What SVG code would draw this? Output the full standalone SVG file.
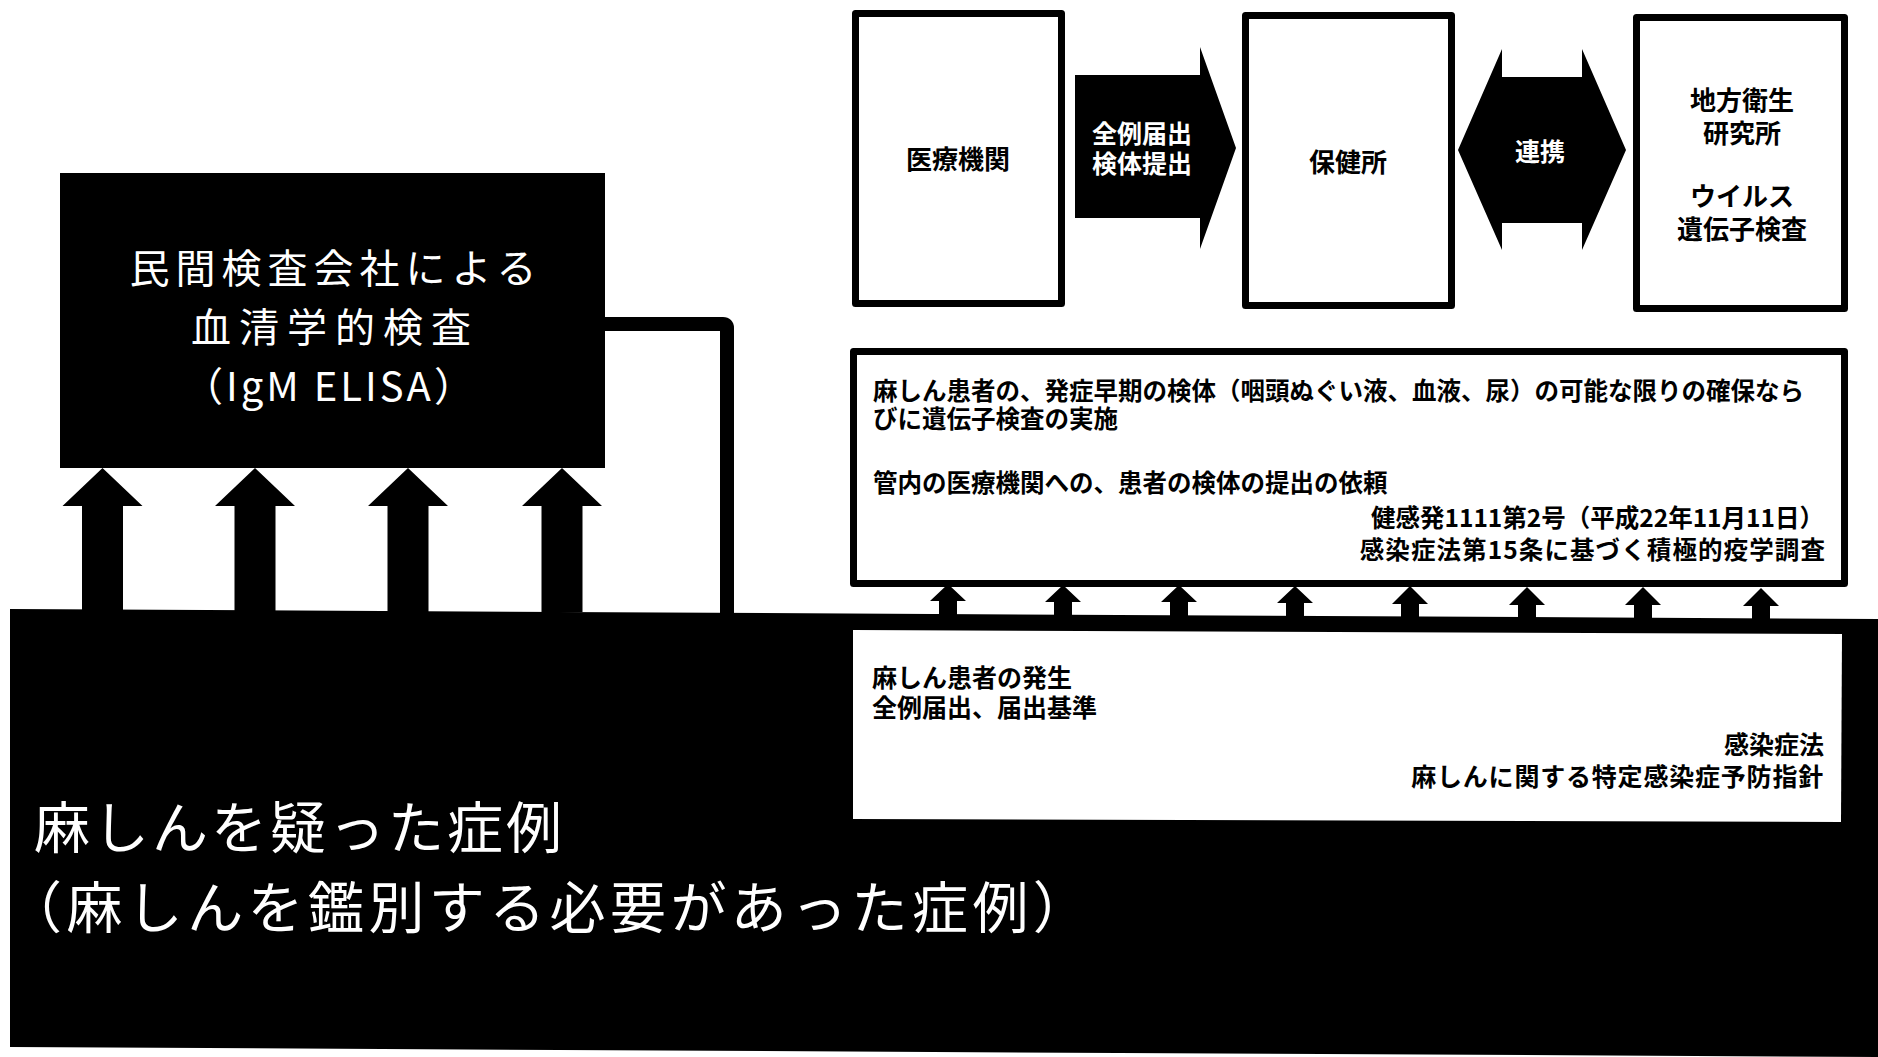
<svg xmlns="http://www.w3.org/2000/svg" width="1878" height="1057" viewBox="0 0 1878 1057">
<style>
.jp{font-family:"Noto Sans CJK JP","Noto Sans",sans-serif;}
.b{font-weight:bold;}
.box{fill:#fff;stroke:#000;stroke-width:7;stroke-linejoin:round;}
.blk{fill:#000;}
.wt{fill:#fff;}
.k{fill:#000;}
.c{text-anchor:middle;dominant-baseline:central;}
.l{text-anchor:start;dominant-baseline:central;}
.r{text-anchor:end;dominant-baseline:central;}
</style>
<rect x="0" y="0" width="1878" height="1057" fill="#fff"/>

<g id="suspected-cases">
<polygon class="blk" points="10,609 1878,619 1878,1057 10,1047"/>
<text class="jp wt l" x="34" y="823" font-size="56" letter-spacing="3">麻しんを疑った症例</text>
<text class="jp wt l" x="6" y="903" font-size="56" letter-spacing="4.4">（麻しんを鑑別する必要があった症例）</text>
</g>

<g id="private-lab">
<rect class="blk" x="60" y="173" width="545" height="295"/>
<text class="jp wt c" x="336" y="266" font-size="40" letter-spacing="6">民間検査会社による</text>
<text class="jp wt c" x="335" y="325" font-size="40" letter-spacing="8">血清学的検査</text>
<text class="jp wt c" x="330" y="384" font-size="40" letter-spacing="3">（IgM ELISA）</text>
</g>

<g id="medical-institution">
<rect class="box" x="855.5" y="13.5" width="206" height="290"/>
<text class="jp b k c" x="958" y="157" font-size="26">医療機関</text>
</g>

<g id="health-center">
<rect class="box" x="1245.5" y="15.5" width="206" height="290"/>
<text class="jp b k c" x="1348" y="160" font-size="26">保健所</text>
</g>

<g id="prefectural-lab">
<rect class="box" x="1636.5" y="17.5" width="208" height="291"/>
<text class="jp b k c" x="1742" y="98" font-size="26">地方衛生</text>
<text class="jp b k c" x="1742" y="131" font-size="26">研究所</text>
<text class="jp b k c" x="1742" y="194" font-size="26">ウイルス</text>
<text class="jp b k c" x="1742" y="227" font-size="26">遺伝子検査</text>
</g>

<g id="active-surveillance">
<rect class="box" x="853.5" y="351.5" width="991" height="232"/>
<text class="jp b k l" x="873" y="389" font-size="24.5">麻しん患者の、発症早期の検体（咽頭ぬぐい液、血液、尿）の可能な限りの確保なら</text>
<text class="jp b k l" x="873" y="417" font-size="24.5">びに遺伝子検査の実施</text>
<text class="jp b k l" x="873" y="481" font-size="24.5">管内の医療機関への、患者の検体の提出の依頼</text>
<text class="jp b k r" x="1824" y="516" font-size="24.5">健感発1111第2号（平成22年11月11日）</text>
<text class="jp b k r" x="1826" y="548" font-size="24.5" letter-spacing="1.1">感染症法第15条に基づく積極的疫学調査</text>
</g>

<g id="notification">
<polygon fill="#fff" points="853,630 1842,634 1841,822 853,819"/>
<text class="jp b k l" x="872" y="676" font-size="25">麻しん患者の発生</text>
<text class="jp b k l" x="872" y="706" font-size="25">全例届出、届出基準</text>
<text class="jp b k r" x="1824" y="743" font-size="25">感染症法</text>
<text class="jp b k r" x="1824" y="775" font-size="25" letter-spacing="0.8">麻しんに関する特定感染症予防指針</text>
</g>

<g id="connectors">
<polygon class="blk" points="1075,75 1200,75 1200,47 1236,148 1200,249 1200,218 1075,218"/>
<text class="jp b wt c" x="1142" y="132" font-size="25">全例届出</text>
<text class="jp b wt c" x="1142" y="162" font-size="25">検体提出</text>
<polygon class="blk" points="1458,150 1502,49 1502,77 1582,77 1582,49 1626,150 1582,250 1582,223 1502,223 1502,250"/>
<text class="jp b wt c" x="1540" y="150" font-size="25">連携</text>
<path d="M605,324 H723 Q727,324 727,328 V614" fill="none" stroke="#000" stroke-width="14"/>
<path class="blk" d="M102.5,468 L142.5,506 L123,506 L123,612 L82,612 L82,506 L62.5,506 Z"/>
<path class="blk" d="M255,468 L295,506 L275.5,506 L275.5,612 L234.5,612 L234.5,506 L215,506 Z"/>
<path class="blk" d="M408,468 L448,506 L428.5,506 L428.5,612 L387.5,612 L387.5,506 L368,506 Z"/>
<path class="blk" d="M562,468 L602,506 L582.5,506 L582.5,612 L541.5,612 L541.5,506 L522,506 Z"/>
<path class="blk" d="M948,584 L966,601 L957,601 L957,616 L939,616 L939,601 L930,601 Z"/>
<path class="blk" d="M1063,585 L1081,602 L1072,602 L1072,616 L1054,616 L1054,602 L1045,602 Z"/>
<path class="blk" d="M1179,585 L1197,602 L1188,602 L1188,617 L1170,617 L1170,602 L1161,602 Z"/>
<path class="blk" d="M1295,586 L1313,603 L1304,603 L1304,617 L1286,617 L1286,603 L1277,603 Z"/>
<path class="blk" d="M1410,586 L1428,604 L1419,604 L1419,618 L1401,618 L1401,604 L1392,604 Z"/>
<path class="blk" d="M1527,587 L1545,605 L1536,605 L1536,618 L1518,618 L1518,605 L1509,605 Z"/>
<path class="blk" d="M1643,587 L1661,605 L1652,605 L1652,619 L1634,619 L1634,605 L1625,605 Z"/>
<path class="blk" d="M1761,588 L1779,606 L1770,606 L1770,619 L1752,619 L1752,606 L1743,606 Z"/>
</g>
</svg>
